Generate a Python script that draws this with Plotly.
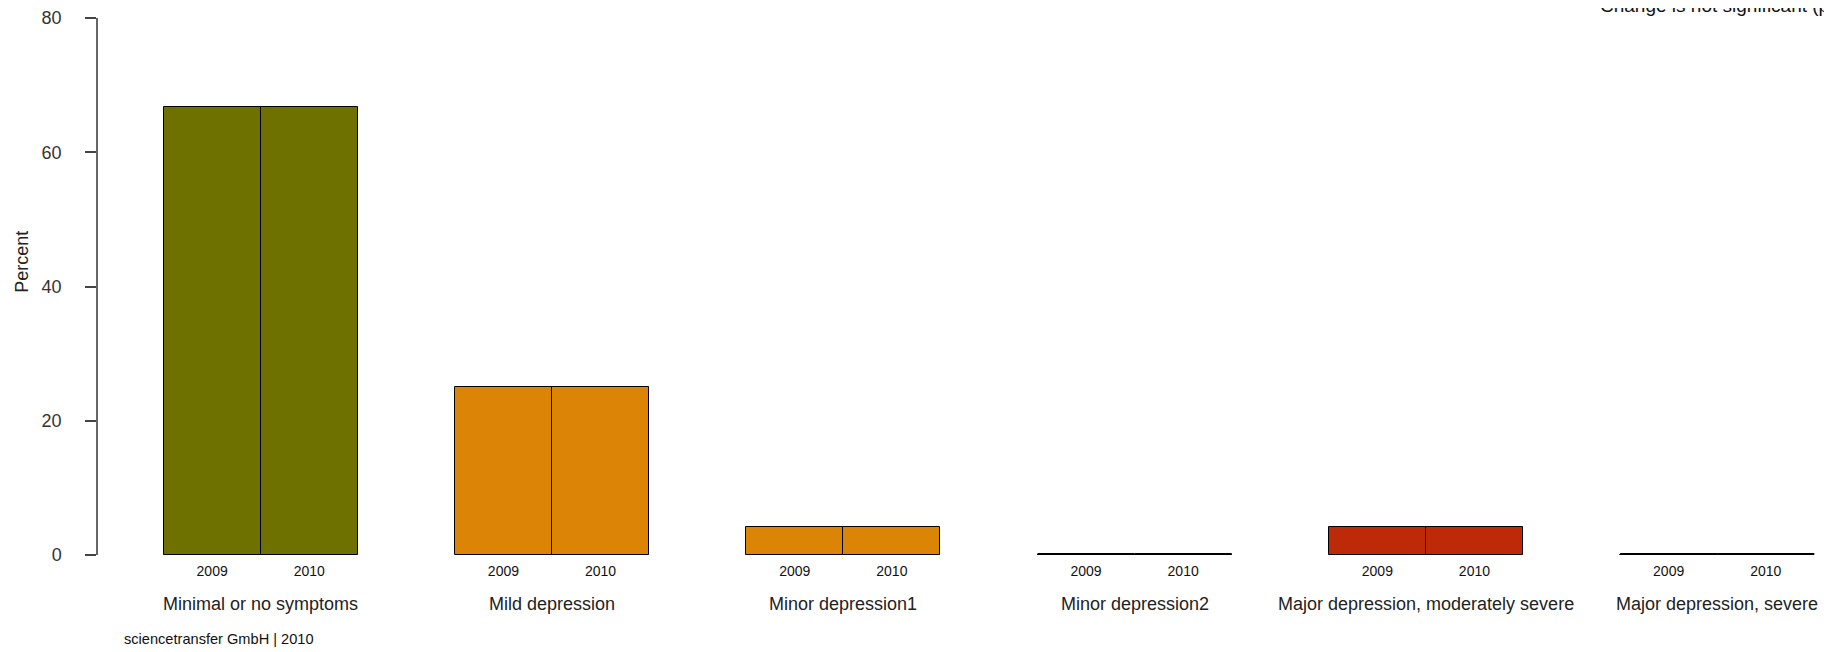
import plotly.graph_objects as go

categories = ["Minimal or no symptoms", "Mild depression", "Minor depression1",
              "Minor depression2", "Major depression, moderately severe", "Major depression, severe"]
years = ["2009", "2010"]
values_2009 = [66.67, 25.0, 4.17, 0.0, 4.17, 0.0]
values_2010 = [66.67, 25.0, 4.17, 0.0, 4.17, 0.0]
colors = ["#6E7000", "#DC8405", "#DC8405", "#DC8405", "#BC2A08", "#BC2A08"]
y_ticks = [0, 20, 40, 60, 80]
note_text = "Change is not significant (p > 0.05)"
footer_text = "sciencetransfer GmbH | 2010"

FONT = "Liberation Sans, Arial, sans-serif"
# the page has an 8px body margin, so figure coords = window coords - 8
W, H = 1824, 644
L, R, T, B = 90, 0, 9.5, 97
PW = W - L - R
BOTTOM = H - B

# bar layout: each group = 2 bars of width 1, groups separated by 1 unit
group_step = 3
x2009 = [group_step * i + 0.5 for i in range(len(categories))]
x2010 = [group_step * i + 1.5 for i in range(len(categories))]
group_centers = [group_step * i + 1.0 for i in range(len(categories))]

fig = go.Figure()
for xs, vals, yr in [(x2009, values_2009, "2009"), (x2010, values_2010, "2010")]:
    fig.add_trace(go.Bar(
        x=xs, y=vals, width=1.0, name=yr,
        marker=dict(color=colors, line=dict(color="black", width=1)),
        showlegend=False, hoverinfo="x+y",
    ))
    # zero-height bars are drawn as a flat outline line
    for xc, v in zip(xs, vals):
        if v == 0:
            fig.add_trace(go.Scatter(
                x=[xc - 0.5, xc + 0.5], y=[v, v], mode="lines",
                line=dict(color="black", width=4), showlegend=False,
                hoverinfo="skip",
            ))

px_per_unit = 97.1
u0 = -(155.6 - L) / px_per_unit
u1 = u0 + PW / px_per_unit

annotations = []
for xc, cat in zip(group_centers, categories):
    annotations.append(dict(
        x=xc, y=0, xref="x", yref="paper", text=cat, showarrow=False,
        xanchor="center", yanchor="middle", yshift=-49,
        font=dict(family=FONT, size=18, color="#222222"),
    ))

annotations.append(dict(
    x=(14.5 - L) / PW, y=(BOTTOM - 254) / (BOTTOM - T), xref="paper", yref="paper",
    text="Percent", textangle=-90, showarrow=False, xanchor="center", yanchor="middle",
    font=dict(family=FONT, size=18, color="#222222"),
))
annotations.append(dict(
    x=(114 - L) / PW, y=0, xref="paper", yref="paper", text=footer_text,
    showarrow=False, xanchor="left", yanchor="middle", yshift=-84,
    font=dict(family=FONT, size=14.6, color="#111111"),
))
annotations.append(dict(
    x=(1590 - L) / PW, y=1, xref="paper", yref="paper", text=note_text,
    showarrow=False, xanchor="left", yanchor="middle", yshift=12.5,
    font=dict(family=FONT, size=19, color="#111111"),
))

fig.update_layout(
    width=W, height=H,
    margin=dict(l=L, r=R, t=T, b=B, pad=0),
    paper_bgcolor="white", plot_bgcolor="white",
    barmode="overlay", bargap=0,
    annotations=annotations,
    xaxis=dict(
        range=[u0, u1], showgrid=False, zeroline=False, showline=False,
        tickvals=x2009 + x2010,
        ticktext=[years[0]] * len(x2009) + [years[1]] * len(x2010),
        ticks="", tickfont=dict(family=FONT, size=14, color="#111111"),
        ticklabelstandoff=6,
    ),
    yaxis=dict(
        range=[0, 80], tickvals=y_ticks, ticktext=[str(v) for v in y_ticks],
        showgrid=False, zeroline=False, showline=True, linecolor="#666666", linewidth=1.5,
        ticks="outside", ticklen=11, tickwidth=1.5, tickcolor="#444444",
        tickfont=dict(family=FONT, size=18, color="#333333"),
        ticklabelstandoff=20,
    ),
)

fig.write_html("out.html")
